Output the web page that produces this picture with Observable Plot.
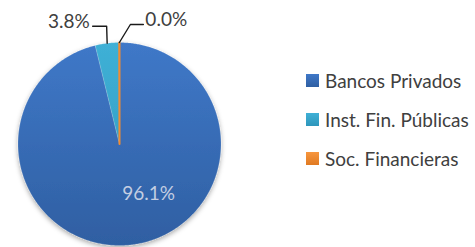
<!DOCTYPE html>
<html><head><meta charset="utf-8">
<script src="https://cdn.jsdelivr.net/npm/d3@7"></script>
<script src="https://cdn.jsdelivr.net/npm/@observablehq/plot@0.6"></script>
<style>
body{margin:0;background:#fff;font-family:Lato,"Open Sans",sans-serif;}
#chart{position:relative;width:475px;height:247px;overflow:hidden;}
#legend{position:absolute;left:306px;top:61px;}
.item{display:flex;align-items:center;height:39px;font-size:19px;color:#404040;white-space:nowrap;}
.sw{width:13px;height:13px;margin-right:6px;flex:none;}
</style></head><body><div id="chart"></div>
<script>
const categories = ["Bancos Privados", "Inst. Fin. Públicas", "Soc. Financieras"];
const shares = [96.1, 3.8, 0.04];
const labels = ["96.1%", "3.8%", "0.0%"];
const colors = ["#3a6fc0", "#38a9cf", "#f28b30"];
const gradTop = ["#3f78c8", "#3fb0d6", "#f7963e"];
const gradBot = ["#2f5fa2", "#2e96bb", "#e07a22"];

const W = 475, H = 247, R = 101.5, cx = 119, cy = 143.5;
const FONT = "Lato";

const pie = d3.pie().sort(null).value(d => d.v)(categories.map((c, i) => ({c, v: shares[i], i})));

function slicePoints(a) {
  const pts = [{x: 0, y: 0}];
  const n = Math.max(2, Math.ceil((a.endAngle - a.startAngle) / 0.01));
  for (let k = 0; k <= n; k++) {
    const t = a.startAngle + (a.endAngle - a.startAngle) * k / n;
    pts.push({x: Math.sin(t), y: Math.cos(t)});
  }
  pts.push({x: 0, y: 0});
  return pts;
}

// leader styling offsets (pixels): elbow dx, elbow dy, horizontal run
const leaderStyle = {1: {ex: -0.5, ey: -17, hx: -14, anchor: "end", dx: -3}, 2: {ex: 11, ey: -18, hx: 13, anchor: "start", dx: 2}};

const sliceMarks = pie.map(a => Plot.line(slicePoints(a), {
  x: "x", y: "y", fill: `url(#g${a.data.i})`,
  stroke: a.data.i === 2 ? colors[2] : "rgba(255,255,255,0.25)",
  strokeWidth: a.data.i === 2 ? 2 : 0.6, curve: "linear-closed"
}));

const leaders = [], leaderText = [];
pie.forEach(a => {
  const s = leaderStyle[a.data.i];
  if (!s) return;
  const m = (a.startAngle + a.endAngle) / 2;
  const e = {x: Math.sin(m), y: Math.cos(m)};
  const b = {x: e.x + s.ex / R, y: e.y - s.ey / R};
  const f = {x: b.x + s.hx / R, y: b.y};
  leaders.push(Plot.line([e, b, f], {x: "x", y: "y", stroke: "#1a1a1a", strokeWidth: 1.4}));
  leaderText.push(Plot.text([f], {x: "x", y: "y", text: () => labels[a.data.i], textAnchor: s.anchor, dx: s.dx, dy: -4.5, fill: "#404040", fontSize: 19, fontFamily: FONT}));
});

const main = pie[0];
const mm = (main.startAngle + main.endAngle) / 2;
const inside = Plot.text([{x: 0.5 * Math.sin(mm), y: 0.5 * Math.cos(mm)}], {x: "x", y: "y", text: () => labels[0], dx: 23, fill: "#c3cee2", fontSize: 19, fontFamily: FONT});

const svg = Plot.plot({
  width: W, height: H,
  marginLeft: cx - R, marginRight: W - cx - R, marginTop: cy - R, marginBottom: H - cy - R,
  x: {domain: [-1, 1], axis: null},
  y: {domain: [-1, 1], axis: null},
  style: {background: "transparent", overflow: "visible"},
  marks: [...sliceMarks, ...leaders, ...leaderText, inside]
});

const defs = d3.select(svg).insert("defs", ":first-child");
const f = defs.append("filter").attr("id", "shadow").attr("x", "-20%").attr("y", "-20%").attr("width", "140%").attr("height", "140%");
f.append("feDropShadow").attr("dx", 0).attr("dy", 2).attr("stdDeviation", 2.5).attr("flood-color", "#000").attr("flood-opacity", 0.35);
categories.forEach((c, i) => {
  const g = defs.append("linearGradient").attr("id", `g${i}`).attr("gradientUnits", "userSpaceOnUse")
    .attr("x1", 0).attr("y1", cy - R).attr("x2", 0).attr("y2", cy + R);
  g.append("stop").attr("offset", 0).attr("stop-color", gradTop[i]);
  g.append("stop").attr("offset", 1).attr("stop-color", gradBot[i]);
});
const lineGroups = d3.select(svg).selectAll('g[aria-label="line"]').nodes().slice(0, sliceMarks.length);
const pieG = d3.select(svg).insert("g", () => lineGroups[0]).attr("filter", "url(#shadow)");
lineGroups.forEach(n => pieG.node().appendChild(n));

const chart = document.getElementById("chart");
chart.appendChild(svg);
const legend = d3.select(chart).append("div").attr("id", "legend");
const items = legend.selectAll("div").data(categories).join("div").attr("class", "item");
items.append("div").attr("class", "sw").style("background", (d, i) => `linear-gradient(${gradTop[i]}, ${gradBot[i]})`);
items.append("span").text(d => d);
</script></body></html>
